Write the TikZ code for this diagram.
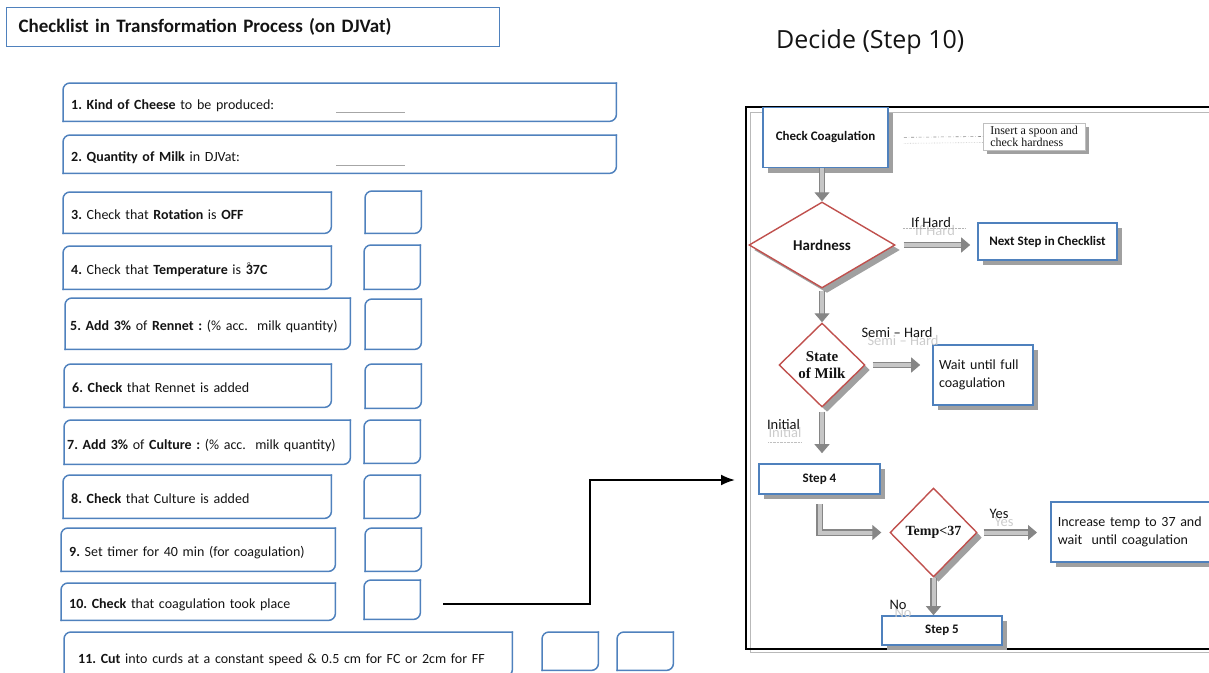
\documentclass[tikz,border=0pt]{standalone}
\usepackage{fontspec}
\setmainfont{Carlito}
\newfontfamily\flowserif{Liberation Serif}
\newfontfamily\headfont{Open Sans}
\usetikzlibrary{arrows.meta,positioning,shapes.geometric,shadows}
\definecolor{boxblue}{RGB}{79,129,189}
\definecolor{decired}{RGB}{192,80,77}
\definecolor{shade}{RGB}{128,128,128}
\definecolor{ink}{RGB}{20,20,20}
\frenchspacing
\tikzset{
  item/.style={anchor=north west, inner xsep=8pt, inner ysep=0pt, align=left,
               text height=14.5pt, text depth=0pt,
               font=\fontsize{14}{16}\selectfont, text=ink},
  chk/.style={anchor=north west, minimum width=56pt, inner sep=0pt},
  rdline/.style={draw=boxblue, line width=1.5pt, rounded corners=7pt, line cap=rect},
  blank/.style={draw=shade!70, line width=1pt},
  flowbox/.style={draw=boxblue, line width=1.6pt, fill=white, inner sep=4pt, text=ink,
                  drop shadow={shadow xshift=5pt, shadow yshift=-5pt, fill=shade!75, opacity=1},
                  font=\fontsize{13}{15}\selectfont\bfseries, align=center},
  flowtext/.style={flowbox, font=\fontsize{14}{18}\selectfont, align=left, inner xsep=6pt},
  note/.style={draw=shade!50, line width=0.6pt, fill=white, text=ink,
               drop shadow={shadow xshift=4pt, shadow yshift=-4pt, fill=shade!75, opacity=1},
               font=\flowserif\fontsize{12}{12.5}\selectfont, align=left, inner xsep=7pt, inner ysep=3pt},
  decide/.style={diamond, draw=decired, line width=1.4pt, fill=white, inner sep=0pt, text=ink,
                 drop shadow={shadow xshift=5pt, shadow yshift=-5pt, fill=shade!75, opacity=1},
                 font=\fontsize{15}{17}\selectfont\bfseries, align=center},
  garrow/.style={draw=shade!95, line width=1.2pt, double=shade!45, double distance=4pt,
                 -{Triangle[length=9pt,width=15pt]}},
  hint/.style={draw=shade!90, dash dot, line width=0.6pt},
  lbl/.style={font=\fontsize{14.5}{16}\selectfont, text=ink, inner sep=0pt},
  ghost/.style={font=\fontsize{14.5}{16}\selectfont, text=shade!40, inner sep=0pt},
  link/.style={-{Latex[length=14pt,width=11pt]}, line width=2pt, black},
}
\newcommand\rdframe[1]{%
  \draw[rdline] (#1.north east) -- (#1.north west) -- (#1.south west);
  \draw[rdline] (#1.south west) -- (#1.south east) -- (#1.north east);}

\begin{document}
\begin{tikzpicture}[x=1pt,y=-1pt]
  \useasboundingbox (0,0) rectangle (1209,672);
  % checklist
  \node[draw=boxblue, line width=1.3pt, anchor=north west, minimum width=493pt, minimum height=39pt,
        inner xsep=12pt, text width=469pt, align=left, text=ink,
        font=\fontsize{19}{21}\selectfont\bfseries] (title) at (6,7)
    {Checklist in Transformation Process (on DJVat)};
  \node[item, text width=537pt, minimum height=38pt] (item1) at (63,83)
    {\textbf{1. Kind of Cheese} to be produced:};
  \node[item, text width=537pt, minimum height=38pt] (item2) at (63,135)
    {\textbf{2. Quantity of Milk} in DJVat:};
  \node[item, text width=252pt, minimum height=41pt] (item3) at (63,192)
    {\textbf{3.} Check that \textbf{Rotation} is \textbf{OFF}};
  \node[item, text width=252pt, minimum height=43pt] (item4) at (63,246)
    {\textbf{4.} Check that \textbf{Temperature} is
     \textbf{\rlap{\raisebox{9pt}{\kern1.5pt\fontsize{6}{6}\selectfont\mdseries o}}37C}};
  \node[item, inner xsep=5pt, text width=275pt, minimum height=51pt] (item5) at (65,298)
    {\mbox{\textbf{5. Add 3\%} of \textbf{Rennet :} (\% acc.\ \ milk quantity)}};
  \node[item, text width=251pt, minimum height=43pt] (item6) at (64,364)
    {\textbf{6. Check} that Rennet is added};
  \node[item, inner xsep=3pt, text width=280pt, minimum height=44pt] (item7) at (64,420)
    {\mbox{\textbf{7. Add 3\%} of \textbf{Culture :} (\% acc.\ \ milk quantity)}};
  \node[item, text width=252pt, minimum height=43pt] (item8) at (63,475)
    {\textbf{8. Check} that Culture is added};
  \node[item, text width=258pt, minimum height=43pt] (item9) at (61,528)
    {\textbf{9.} Set timer for 40 min (for coagulation)};
  \node[item, text width=258pt, minimum height=37pt] (item10) at (61,583)
    {\textbf{10. Check} that coagulation took place};
  \node[item, inner xsep=14pt, text width=420pt, minimum height=44pt, text height=18pt] (item11) at (64,632)
    {\textbf{11. Cut} into curds at a constant speed \& 0.5 cm for FC or 2cm for FF};
  \node[chk, minimum height=42pt] (chk3) at (365,191) {};
  \node[chk, minimum height=44pt] (chk4) at (364,245) {};
  \node[chk, minimum height=50pt] (chk5) at (365,299) {};
  \node[chk, minimum height=44pt] (chk6) at (365,364) {};
  \node[chk, minimum height=43pt] (chk7) at (364,420) {};
  \node[chk, minimum height=43pt] (chk8) at (364,475) {};
  \node[chk, minimum height=43pt] (chk9) at (365,528) {};
  \node[chk, minimum height=39pt] (chk10) at (364,580) {};
  \node[chk, minimum height=38pt] (chk11a) at (542,632) {};
  \node[chk, minimum height=38pt] (chk11b) at (617,632) {};
  \foreach \n in {item1,item2,item3,item4,item5,item6,item7,item8,item9,item10,item11,
                  chk3,chk4,chk5,chk6,chk7,chk8,chk9,chk10,chk11a,chk11b}
    {\rdframe{\n}}
  \draw[blank] (336,112) -- (405,112);
  \draw[blank] (336,165) -- (405,165);

  % decide flow
  \node[font=\headfont\fontsize{25}{28}\selectfont, anchor=west, inner sep=0pt, text=ink] (decide)
    at (776,42) {Decide (Step 10)};
  \node[draw=shade!55, line width=1pt, anchor=north west, inner sep=0pt,
        minimum width=470pt, minimum height=540pt] (frameg) at (750,112) {};
  \node[draw=black, line width=1.6pt, anchor=north west, inner sep=0pt,
        minimum width=470pt, minimum height=542pt] (frame) at (745,106) {};

  \node[flowbox, minimum width=125pt, minimum height=60pt] (check) at (825.5,137.5) {Check Coagulation};
  \node[note, anchor=west] (insert) at (983,136.5) {Insert a spoon and\\check hardness};
  \node[decide, minimum width=146pt, minimum height=86pt] (hard) at (822,245) {Hardness};
  \node[flowbox, minimum width=139pt, minimum height=37pt] (next) at (1047.5,241.5) {Next Step in Checklist};
  \node[decide, minimum width=86pt, minimum height=84pt,
        font=\flowserif\fontsize{15}{17}\selectfont\bfseries] (state) at (822,365) {State\\of Milk};
  \node[flowtext, minimum height=60pt, text width=88pt] (wait) at (983,375) {Wait until full\\coagulation};
  \node[flowbox, minimum width=121pt, minimum height=30pt,
        font=\fontsize{13}{15}\selectfont\bfseries] (step4) at (819.5,479) {Step 4};
  \node[decide, minimum width=87pt, minimum height=89pt,
        font=\flowserif\fontsize{14}{16}\selectfont\bfseries] (temp) at (933.5,532.5) {Temp<37};
  \node[flowtext, anchor=west, minimum height=60pt, inner xsep=7pt, text width=160pt] (incr)
    at (1050,532) {Increase temp to 37 and\\wait\ \ until coagulation};
  \node[flowbox, minimum width=120pt, minimum height=29pt,
        font=\fontsize{13}{15}\selectfont\bfseries] (step5) at (942,630.5) {Step 5};

  % labels with their faint copies
  \node[ghost] (ifhardg) at (935,231) {If Hard};
  \node[lbl] (ifhard) at (931,223) {If Hard};
  \draw[shade!60, densely dotted] ([xshift=-8pt]ifhard.south west) -- ([xshift=14pt]ifhard.south east);
  \node[ghost] (semig) at (903,341) {Semi -- Hard};
  \node[lbl] (semi) at (897,333) {Semi -- Hard};
  \node[ghost] (initg) at (785,433) {Initial};
  \node[lbl] (init) at (783.5,425) {Initial};
  \draw[shade!50, densely dotted] ([yshift=-4pt]initg.south west) -- ([yshift=-4pt]initg.south east);
  \node[ghost] (yesg) at (1004,522) {Yes};
  \node[lbl] (yes) at (999,514) {Yes};
  \node[ghost] (nog) at (903,613) {No};
  \node[lbl] (no) at (898,605) {No};

  % connectors
  \draw[hint, shorten <=15pt] (check.east) -- (insert.west);
  \draw[shade!45, densely dotted, line width=0.6pt, shorten <=15pt]
    ([yshift=-6pt]check.east) -- ([yshift=-6pt]insert.west);
  \draw[garrow] (hard.north |- check.south) -- (hard.north);
  \draw[garrow, shorten <=8pt, shorten >=7pt] (hard.east) -- (hard.east -| next.west);
  \draw[garrow, shorten <=2pt] (hard.south) -- (state.north);
  \draw[garrow, shorten <=7pt, shorten >=12pt] (state.east) -- (state.east -| wait.west);
  \draw[garrow, shorten <=4pt, shorten >=10pt] (state.south) -- (state.south |- step4.north);
  \draw[garrow, shorten >=8pt] ([yshift=-9pt]step4.south) |- (temp.west);
  \draw[garrow, shorten <=6pt, shorten >=13pt] (temp.east) -- (temp.east -| incr.west);
  \draw[garrow] (temp.south) -- (temp.south |- step5.north);

  \coordinate (turn) at (590,480);
  \draw[link] ([xshift=23pt,yshift=-4pt]chk10.east) -| (turn) -- ([xshift=-10pt]turn -| frame.west);
\end{tikzpicture}
\end{document}
